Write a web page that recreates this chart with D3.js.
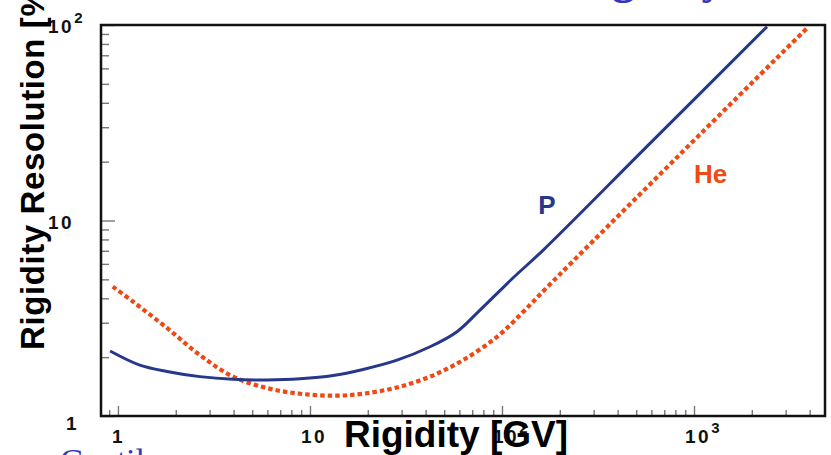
<!DOCTYPE html>
<html>
<head>
<meta charset="utf-8">
<script src="https://cdn.jsdelivr.net/npm/d3@7"></script>
<style>
  body { margin: 0; background: #fff; }
  svg { display: block; }
</style>
</head>
<body>
<div id="chart"></div>
<script>
// rigidity resolution vs rigidity
var pRigidity = [0.91, 1.30, 1.80, 2.67, 3.97, 5.97, 8.87, 13.2, 18.9, 28.4, 42.2, 58.3, 76.8, 114, 164, 590, 2400];
var pResolution = [2.15, 1.82, 1.69, 1.59, 1.54, 1.53, 1.55, 1.61, 1.73, 1.93, 2.26, 2.70, 3.48, 5.08, 7.06, 24.8, 98];

var heRigidity = [0.94, 1.20, 1.80, 2.67, 3.97, 5.97, 8.87, 13.2, 18.9, 28.4, 42.2, 62.6, 94.2, 128.6, 171.5, 845, 3880];
var heResolution = [4.59, 3.84, 2.82, 2.05, 1.59, 1.39, 1.30, 1.27, 1.30, 1.40, 1.59, 1.93, 2.54, 3.40, 4.55, 21.8, 96.5];

// tick labels: base + exponent
var xTickVals = [1, 10, 100, 1000];
var xTickBase = ["1", "10", "10", "10"];
var xTickExp = ["", "", "2", "3"];
var yTickVals = [1, 10, 100];
var yTickBase = ["1", "10", "10"];
var yTickExp = ["", "", "2"];

var seriesNames = ["P", "He"];

var svgWidth = 831, svgHeight = 455;
var plot = {left: 101, right: 825, top: 25, bottom: 416};

var svg = d3.select("#chart").append("svg")
    .attr("width", svgWidth)
    .attr("height", svgHeight);

var x = d3.scaleLog().domain([0.816, 4810]).range([plot.left, plot.right]);
var y = d3.scaleLog().domain([1, 100]).range([plot.bottom, plot.top]);

// slide leftovers cut by the crop (blue title above, text below)
svg.append("text")
    .attr("x", 566).attr("y", -7)
    .attr("font-family", "Liberation Serif, serif")
    .attr("font-weight", "bold")
    .attr("font-size", 46)
    .attr("fill", "#3535c0")
    .text("Rigidity");
svg.append("text")
    .attr("x", 60).attr("y", 472)
    .attr("font-family", "Liberation Serif, serif")
    .attr("font-size", 34)
    .attr("fill", "#3535c0")
    .text("Gentile");

// minor + major ticks
var xAllTicks = [];
[0.1, 1, 10, 100, 1000].forEach(function(dec){
    for (var k = 1; k < 10; k++) {
        var v = k * dec;
        if (v >= 0.816 && v <= 4810) xAllTicks.push(v);
    }
});
var yAllTicks = [];
[1, 10].forEach(function(dec){
    for (var k = 1; k < 10; k++) yAllTicks.push(k * dec);
});
yAllTicks.push(100);

var xAxis = svg.append("g")
    .attr("transform", "translate(0," + plot.bottom + ")")
    .call(d3.axisBottom(x).tickValues(xAllTicks).tickSize(0).tickFormat(""));
xAxis.select(".domain").remove();
xAxis.selectAll(".tick line")
    .attr("y2", function(d){ return xTickVals.indexOf(d) >= 0 ? -10 : -6; })
    .attr("stroke", "#777").attr("stroke-width", 1.4);

var yAxis = svg.append("g")
    .attr("transform", "translate(" + plot.left + ",0)")
    .call(d3.axisLeft(y).tickValues(yAllTicks).tickSize(0).tickFormat(""));
yAxis.select(".domain").remove();
yAxis.selectAll(".tick line")
    .attr("x2", function(d){ return yTickVals.indexOf(d) >= 0 ? 14 : 8; })
    .attr("stroke", "#777").attr("stroke-width", 1.4);

// frame
svg.append("rect")
    .attr("x", plot.left).attr("y", plot.top)
    .attr("width", plot.right - plot.left)
    .attr("height", plot.bottom - plot.top)
    .attr("fill", "none")
    .attr("stroke", "#111")
    .attr("stroke-width", 2.5);

// curves
var line = d3.line()
    .x(function(d){ return x(d[0]); })
    .y(function(d){ return y(d[1]); })
    .curve(d3.curveCatmullRom.alpha(0.5));

var pData = d3.zip(pRigidity, pResolution);
var heData = d3.zip(heRigidity, heResolution);

svg.append("path")
    .datum(heData)
    .attr("d", line)
    .attr("fill", "none")
    .attr("stroke", "#ee4a15")
    .attr("stroke-width", 4.2)
    .attr("stroke-dasharray", "4.5,3");

svg.append("path")
    .datum(pData)
    .attr("d", line)
    .attr("fill", "none")
    .attr("stroke", "#27378a")
    .attr("stroke-width", 3);

// series labels
svg.append("text")
    .attr("x", 547).attr("y", 214)
    .attr("text-anchor", "middle")
    .attr("font-family", "Liberation Sans, Arial, sans-serif")
    .attr("font-weight", "bold").attr("font-size", 26)
    .attr("fill", "#27378a")
    .text(seriesNames[0]);
svg.append("text")
    .attr("x", 694).attr("y", 183)
    .attr("font-family", "Liberation Sans, Arial, sans-serif")
    .attr("font-weight", "bold").attr("font-size", 26)
    .attr("fill", "#ee4a15")
    .text(seriesNames[1]);

// tick labels
function addLabel(g, base, exp) {
    g.append("tspan").text(base);
    if (exp) {
        g.append("tspan")
            .attr("dy", -10)
            .attr("font-size", 15)
            .text(exp);
    }
}

xTickVals.forEach(function(v, i){
    var t = svg.append("text")
        .attr("x", v === 1 ? x(v) - 6 : x(v) - 9)
        .attr("y", 443)
        .attr("font-family", "Liberation Sans, Arial, sans-serif")
        .attr("font-weight", "bold")
        .attr("font-size", 19)
        .attr("letter-spacing", 2.5)
        .attr("fill", "#111");
    addLabel(t, xTickBase[i], xTickExp[i]);
});

yTickVals.forEach(function(v, i){
    var t = svg.append("text")
        .attr("x", v === 1 ? 66 : 48)
        .attr("y", v === 1 ? 430 : y(v) + 8)
        .attr("font-family", "Liberation Sans, Arial, sans-serif")
        .attr("font-weight", "bold")
        .attr("font-size", 19)
        .attr("letter-spacing", 2.5)
        .attr("fill", "#111");
    addLabel(t, yTickBase[i], yTickExp[i]);
});

// axis titles
svg.append("text")
    .attr("transform", "translate(44,350) rotate(-90)")
    .attr("font-family", "Liberation Sans, Arial, sans-serif")
    .attr("font-weight", "bold")
    .attr("font-size", 33)
    .attr("letter-spacing", 0.6)
    .attr("fill", "#000")
    .text("Rigidity Resolution [%]");

svg.append("text")
    .attr("x", 456).attr("y", 447)
    .attr("text-anchor", "middle")
    .attr("font-family", "Liberation Sans, Arial, sans-serif")
    .attr("font-weight", "bold")
    .attr("font-size", 37)
    .attr("fill", "#000")
    .text("Rigidity [GV]");
</script>
</body>
</html>
